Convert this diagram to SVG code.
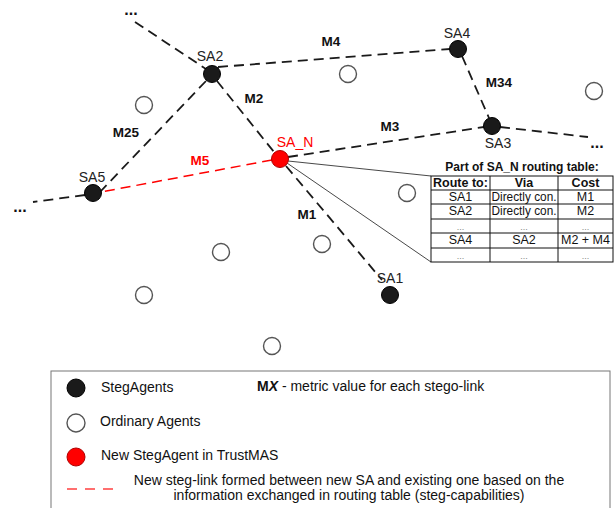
<svg xmlns="http://www.w3.org/2000/svg" width="616" height="508" viewBox="0 0 616 508">
<style>
.lk{stroke:#1a1a1a;stroke-width:1.8;stroke-dasharray:10 6;fill:none}
.rd{stroke:#ff0000;stroke-width:1.5;stroke-dasharray:10 6;fill:none}
.thin{stroke:#333;stroke-width:0.9;fill:none}
.sa{fill:#1a1a1a;stroke:#000;stroke-width:1}
.oa{fill:#fff;stroke:#555;stroke-width:1.4}
.nl{font-family:"Liberation Sans",Arial,sans-serif;font-size:14px;fill:#222;text-anchor:middle}
.el{font-family:"Liberation Sans",Arial,sans-serif;font-size:13.5px;font-weight:bold;fill:#111;text-anchor:middle}
.dots{font-family:"Liberation Sans",Arial,sans-serif;font-size:16px;font-weight:bold;fill:#111;text-anchor:middle}
.tt{font-family:"Liberation Sans",Arial,sans-serif;font-size:12.5px;fill:#111;text-anchor:middle}
.th{font-family:"Liberation Sans",Arial,sans-serif;font-size:12.5px;font-weight:bold;fill:#111;text-anchor:middle}
.td{font-family:"Liberation Sans",Arial,sans-serif;font-size:9px;fill:#888;text-anchor:middle}
.lg{font-family:"Liberation Sans",Arial,sans-serif;font-size:14px;fill:#111}
.grid{stroke:#111;stroke-width:1;fill:none}
</style>
<g id="connectors">
<line class="lk" x1="135" y1="22" x2="206" y2="69"/>
<line class="lk" x1="218" y1="67" x2="450" y2="49"/>
<line class="lk" x1="462" y1="56" x2="489" y2="118"/>
<line class="lk" x1="288" y1="157" x2="484" y2="127"/>
<line class="lk" x1="500" y1="127" x2="588" y2="137"/>
<line class="lk" x1="217" y1="81" x2="274" y2="152"/>
<line class="lk" x1="286" y1="166" x2="382" y2="280"/>
<line class="lk" x1="206" y1="81" x2="100" y2="192"/>
<line class="lk" x1="85" y1="195" x2="33" y2="202"/>
<line class="rd" x1="272" y1="160" x2="101" y2="192"/>
<line class="thin" x1="288" y1="161" x2="431" y2="176"/>
<line class="thin" x1="287" y1="163" x2="431" y2="262"/>
</g>
<g id="ordinary-agents">
<circle class="oa" cx="144" cy="105" r="8.5"/>
<circle class="oa" cx="348" cy="74" r="8.5"/>
<circle class="oa" cx="594" cy="91" r="8.5"/>
<circle class="oa" cx="407" cy="193" r="8.5"/>
<circle class="oa" cx="322" cy="244" r="8.5"/>
<circle class="oa" cx="221" cy="252" r="8.5"/>
<circle class="oa" cx="144" cy="295" r="8.5"/>
<circle class="oa" cx="272" cy="346" r="8.5"/>
</g>
<g id="SA2"><circle class="sa" cx="212" cy="74" r="8.5"/><text class="nl" x="210" y="61">SA2</text></g>
<g id="SA4"><circle class="sa" cx="458" cy="49" r="8.5"/><text class="nl" x="457" y="38">SA4</text></g>
<g id="SA3"><circle class="sa" cx="492" cy="126" r="8.5"/><text class="nl" x="498" y="148">SA3</text></g>
<g id="SA5"><circle class="sa" cx="93" cy="193" r="8.5"/><text class="nl" x="92" y="182">SA5</text></g>
<g id="SA1"><circle class="sa" cx="390" cy="295" r="8.5"/><text class="nl" x="390" y="283">SA1</text></g>
<g id="SA_N"><circle cx="280" cy="159" r="8.5" fill="#ff0000" stroke="#b00000" stroke-width="1"/><text class="nl" x="295" y="147" style="fill:#ff0000">SA_N</text></g>
<g id="edge-labels">
<text class="el" x="331" y="46">M4</text>
<text class="el" x="254" y="103">M2</text>
<text class="el" x="126" y="137">M25</text>
<text class="el" x="200" y="165" style="fill:#ff0000">M5</text>
<text class="el" x="390" y="131">M3</text>
<text class="el" x="499" y="87">M34</text>
<text class="el" x="307" y="219">M1</text>
<text class="dots" x="131" y="15">...</text>
<text class="dots" x="20" y="212">...</text>
<text class="dots" x="597" y="148">...</text>
</g>
<g id="routing-table">
<text class="th" x="522" y="171" style="font-size:12px">Part of SA_N routing table:</text>
<rect class="grid" x="431" y="176" width="182" height="86"/>
<line class="grid" x1="490" y1="176" x2="490" y2="262"/>
<line class="grid" x1="558" y1="176" x2="558" y2="262"/>
<line class="grid" x1="431" y1="190" x2="613" y2="190"/>
<line class="grid" x1="431" y1="204" x2="613" y2="204"/>
<line class="grid" x1="431" y1="219" x2="613" y2="219"/>
<line class="grid" x1="431" y1="233" x2="613" y2="233"/>
<line class="grid" x1="431" y1="248" x2="613" y2="248"/>
<text class="th" x="460.5" y="187">Route to:</text>
<text class="th" x="524" y="187">Via</text>
<text class="th" x="585.5" y="187">Cost</text>
<text class="tt" x="460.5" y="201">SA1</text>
<text class="tt" x="524" y="201" textLength="65" lengthAdjust="spacingAndGlyphs">Directly con.</text>
<text class="tt" x="585.5" y="201">M1</text>
<text class="tt" x="460.5" y="215">SA2</text>
<text class="tt" x="524" y="215" textLength="65" lengthAdjust="spacingAndGlyphs">Directly con.</text>
<text class="tt" x="585.5" y="215">M2</text>
<text class="td" x="460.5" y="230">...</text>
<text class="td" x="524" y="230">...</text>
<text class="td" x="585.5" y="230">...</text>
<text class="tt" x="460.5" y="244">SA4</text>
<text class="tt" x="524" y="244">SA2</text>
<text class="tt" x="585.5" y="244">M2 + M4</text>
<text class="td" x="460.5" y="259">...</text>
<text class="td" x="524" y="259">...</text>
<text class="td" x="585.5" y="259">...</text>
</g>
<g id="legend">
<rect x="51" y="371" width="559" height="150" fill="none" stroke="#777" stroke-width="1"/>
<circle class="sa" cx="76" cy="388" r="9"/>
<text class="lg" x="101" y="392">StegAgents</text>
<text class="lg" x="257" y="391"><tspan font-weight="bold">M<tspan font-style="italic">X</tspan></tspan> - metric value for each stego-link</text>
<circle class="oa" cx="76" cy="423" r="9"/>
<text class="lg" x="100" y="426">Ordinary Agents</text>
<circle cx="76" cy="457" r="9" fill="#ff0000" stroke="#b00000" stroke-width="1"/>
<text class="lg" x="101" y="460">New StegAgent in TrustMAS</text>
<line x1="67" y1="489" x2="114" y2="489" stroke="#ff4040" stroke-width="1.5" stroke-dasharray="10 8"/>
<text class="lg" x="349" y="485" text-anchor="middle">New steg-link formed between new SA and existing one based on the</text>
<text class="lg" x="349" y="500" text-anchor="middle">information exchanged in routing table (steg-capabilities)</text>
</g>
</svg>
